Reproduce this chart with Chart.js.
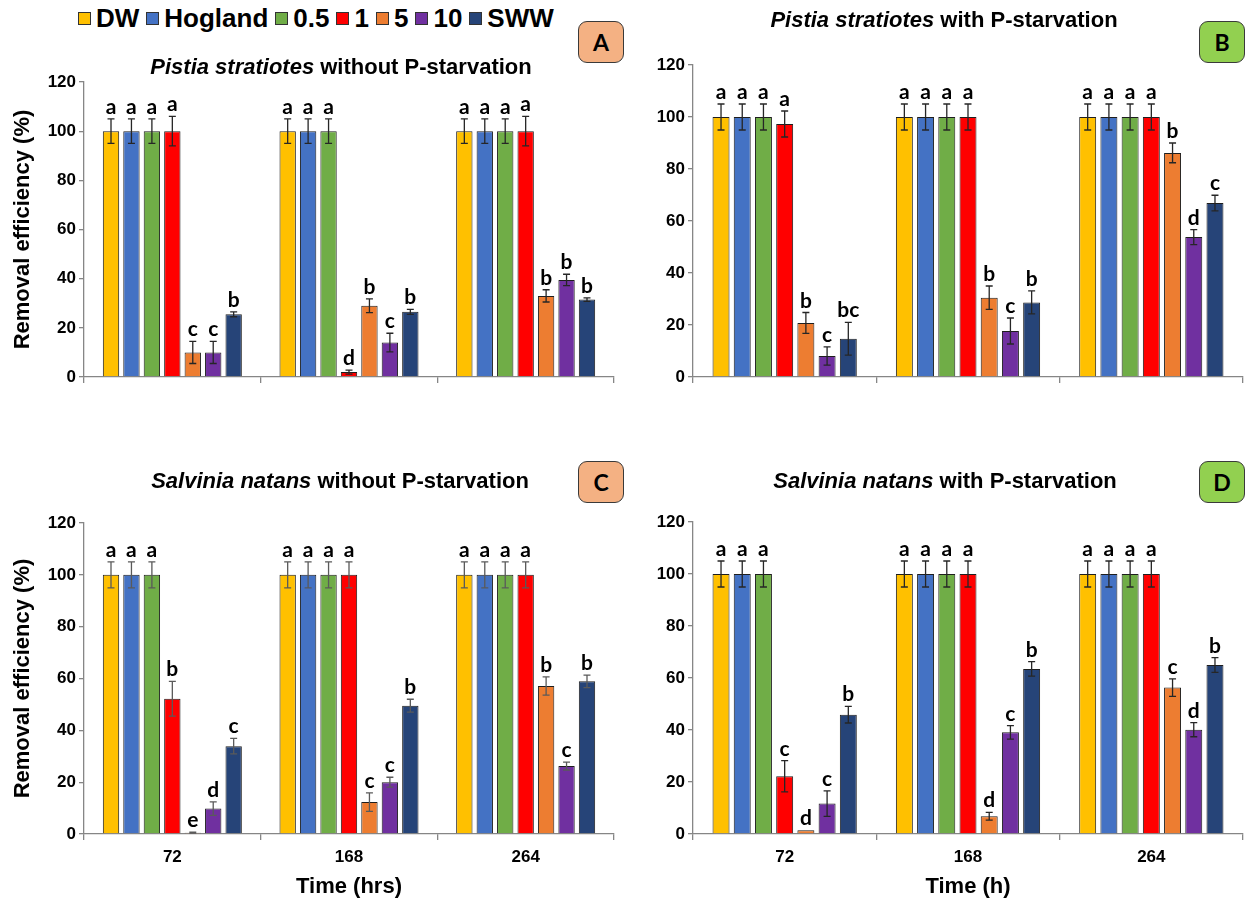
<!DOCTYPE html>
<html>
<head>
<meta charset="utf-8">
<script src="https://cdn.jsdelivr.net/npm/chart.js@4.4.1/dist/chart.umd.min.js"></script>
<style>
  html,body{margin:0;padding:0;background:#fff;}
  body{width:1246px;height:900px;position:relative;overflow:hidden;font-family:'Liberation Sans',Arial,sans-serif;color:#000;}
  canvas{position:absolute;}
  .ttl{position:absolute;font-weight:bold;font-size:22px;white-space:nowrap;transform:translate(-50%,-50%);line-height:1;}
  .box{position:absolute;width:46px;height:42px;border:1.6px solid #3a3a3a;border-radius:9px;display:flex;align-items:center;justify-content:center;font:bold 23px Lato,'Open Sans',sans-serif;box-sizing:border-box;}
  #legend{position:absolute;left:78px;top:3px;display:flex;align-items:center;font-weight:bold;font-size:26px;line-height:30px;white-space:nowrap;}
  .li{display:flex;align-items:center;margin-right:7px;}
  .sw{width:13px;height:13px;border:1px solid #333;margin-right:5px;box-sizing:border-box;}
</style>
</head>
<body>
<div id="legend"></div>

<canvas id="cA" width="630" height="440" style="left:0;top:0;width:630px;height:440px"></canvas>
<canvas id="cB" width="616" height="440" style="left:630px;top:0;width:616px;height:440px"></canvas>
<canvas id="cC" width="630" height="460" style="left:0;top:440px;width:630px;height:460px"></canvas>
<canvas id="cD" width="616" height="460" style="left:630px;top:440px;width:616px;height:460px"></canvas>

<div class="ttl" style="left:341px;top:67px"><i>Pistia stratiotes</i> without P-starvation</div>
<div class="ttl" style="left:944px;top:20px"><i>Pistia stratiotes</i> with P-starvation</div>
<div class="ttl" style="left:340px;top:481px"><i>Salvinia natans</i> without P-starvation</div>
<div class="ttl" style="left:945px;top:481px"><i>Salvinia natans</i> with P-starvation</div>

<div class="box" style="left:578px;top:21px;background:#F4B183">A</div>
<div class="box" style="left:1199px;top:21px;background:#92D050">B</div>
<div class="box" style="left:578px;top:461px;background:#F4B183">C</div>
<div class="box" style="left:1199px;top:461px;background:#92D050">D</div>

<script>
// ---------------- DATA ----------------
const categories = ['72', '168', '264'];
const seriesNames = ['DW', 'Hogland', '0.5', '1', '5', '10', 'SWW'];
const yTicks = [0, 20, 40, 60, 80, 100, 120];

// Panel A: Pistia stratiotes without P-starvation (rows = series, cols = times)
const valuesA = [
  [100, 100, 100], [100, 100, 100], [100, 100, 100], [100, 2, 100],
  [10, 29, 33], [10, 14, 39.5], [25.5, 26.5, 31.5]
];
const errorsA = [
  [5, 5, 5], [5, 5, 5], [5, 5, 5], [6, 0.8, 6],
  [4.5, 2.8, 2.5], [4.5, 3.8, 2.3], [1, 1, 0.7]
];
const lettersA = [
  ['a','a','a'], ['a','a','a'], ['a','a','a'], ['a','d','a'],
  ['c','b','b'], ['c','c','b'], ['b','b','b']
];

// Panel B: Pistia stratiotes with P-starvation
const valuesB = [
  [100, 100, 100], [100, 100, 100], [100, 100, 100], [97.3, 100, 100],
  [20.8, 30.5, 86.2], [8.1, 17.7, 53.8], [14.7, 28.7, 66.9]
];
const errorsB = [
  [5, 5, 5], [5, 5, 5], [5, 5, 5], [5, 5, 5],
  [4, 4.5, 3.8], [3.5, 5, 2.9], [6.3, 4.4, 3]
];
const lettersB = [
  ['a','a','a'], ['a','a','a'], ['a','a','a'], ['a','a','a'],
  ['b','b','b'], ['c','c','d'], ['bc','b','c']
];

// Panel C: Salvinia natans without P-starvation
const valuesC = [
  [100, 100, 100], [100, 100, 100], [100, 100, 100], [52.2, 100, 100],
  [0.5, 12.3, 57.1], [9.8, 20, 26.2], [33.9, 49.5, 58.9]
];
const errorsC = [
  [5, 5, 5], [5, 5, 5], [5, 5, 5], [6.7, 5, 5],
  [0.2, 3.6, 3.5], [2.6, 1.9, 1.5], [3, 2.5, 2.4]
];
const lettersC = [
  ['a','a','a'], ['a','a','a'], ['a','a','a'], ['b','a','a'],
  ['e','c','b'], ['d','c','c'], ['c','b','b']
];

// Panel D: Salvinia natans with P-starvation
const valuesD = [
  [100, 100, 100], [100, 100, 100], [100, 100, 100], [22.2, 100, 100],
  [1.4, 6.8, 56.3], [11.7, 39.1, 40.1], [45.9, 63.5, 65]
];
const errorsD = [
  [5, 5, 5], [5, 5, 5], [5, 5, 5], [6, 5, 5],
  [0, 1.5, 3.4], [4.9, 2.6, 2.7], [3.2, 2.8, 2.8]
];
const lettersD = [
  ['a','a','a'], ['a','a','a'], ['a','a','a'], ['c','a','a'],
  ['d','d','c'], ['c','c','d'], ['b','b','b']
];

// ---------------- STYLE ----------------
const seriesColors = ['#FFC000', '#4472C4', '#70AD47', '#FF0000', '#ED7D31', '#7030A0', '#264478'];
const axisColor = '#868686';

// HTML legend built from the series
const legendEl = document.getElementById('legend');
seriesNames.forEach((n, i) => {
  const it = document.createElement('div'); it.className = 'li';
  const sw = document.createElement('div'); sw.className = 'sw'; sw.style.background = seriesColors[i];
  const tx = document.createElement('span'); tx.textContent = n;
  it.appendChild(sw); it.appendChild(tx); legendEl.appendChild(it);
});

const annotPlugin = {
  id: 'annot',
  afterDatasetsDraw(chart, args, opts) {
    const ctx = chart.ctx, y = chart.scales.y;
    ctx.save();
    chart.data.datasets.forEach((ds, i) => {
      const meta = chart.getDatasetMeta(i);
      meta.data.forEach((bar, j) => {
        const v = ds.data[j], e = ds.errs[j];
        const x = bar.x;
        const yt = y.getPixelForValue(v + e), yb = y.getPixelForValue(Math.max(0, v - e));
        if (e > 0) {
          ctx.strokeStyle = opts.errColor; ctx.lineWidth = 1.3;
          ctx.beginPath();
          ctx.moveTo(x, yt); ctx.lineTo(x, yb);
          ctx.moveTo(x - 3.5, yt); ctx.lineTo(x + 3.5, yt);
          ctx.moveTo(x - 3.5, yb); ctx.lineTo(x + 3.5, yb);
          ctx.stroke();
        }
        ctx.fillStyle = '#000';
        ctx.font = 'bold 21px Lato, "Open Sans", sans-serif';
        ctx.textAlign = 'center'; ctx.textBaseline = 'alphabetic';
        ctx.fillText(ds.letters[j], x, yt - 5);
      });
    });
    ctx.restore();
  }
};

function makeChart(id, values, errors, letters, cfg) {
  const datasets = seriesNames.map((n, i) => ({
    label: n,
    data: values[i],
    errs: errors[i],
    letters: letters[i],
    backgroundColor: seriesColors[i],
    borderColor: '#1e1e1e',
    borderWidth: 1,
    categoryPercentage: 0.81,
    barPercentage: 0.8
  }));
  return new Chart(document.getElementById(id), {
    type: 'bar',
    data: { labels: categories, datasets },
    plugins: [annotPlugin],
    options: {
      responsive: false,
      animation: false,
      devicePixelRatio: 1,
      layout: { padding: { left: 0, top: cfg.top, right: cfg.right, bottom: 0 } },
      plugins: {
        legend: { display: false },
        tooltip: { enabled: false },
        annot: { errColor: cfg.errColor }
      },
      scales: {
        x: {
          grid: { display: true, drawOnChartArea: false, drawTicks: true, tickLength: 6, color: axisColor, lineWidth: 1.3, offset: true },
          border: { color: axisColor, width: 1.3 },
          ticks: { display: cfg.showX, color: '#000', padding: 7,
                   font: { family: "'Liberation Sans',Arial", weight: 'bold', size: 17 } },
          title: { display: cfg.showX, text: cfg.xTitle, color: '#000', padding: { top: 0, bottom: 0 },
                   font: { family: "'Liberation Sans',Arial", weight: 'bold', size: 22 } },
          afterFit: s => { s.height = cfg.xH; }
        },
        y: {
          min: 0, max: 120,
          afterBuildTicks: s => { s.ticks = yTicks.map(v => ({ value: v })); },
          grid: { drawOnChartArea: false, drawTicks: true, tickLength: 5, color: axisColor, lineWidth: 1.3 },
          border: { color: axisColor, width: 1.3 },
          ticks: { color: '#000', padding: 3, font: { family: "'Liberation Sans',Arial", weight: 'bold', size: 17 } },
          title: { display: cfg.showY, text: 'Removal efficiency (%)', color: '#000', padding: { top: 10, bottom: 0 },
                   font: { family: "'Liberation Sans',Arial", weight: 'bold', size: 22 } },
          afterFit: s => { s.width = cfg.yW; }
        }
      }
    }
  });
}

makeChart('cA', valuesA, errorsA, lettersA, { top: 82, right: 16, yW: 84, xH: 63, showX: false, showY: true, xTitle: '', errColor: '#262626' });
makeChart('cB', valuesB, errorsB, lettersB, { top: 65, right: 3, yW: 63, xH: 63, showX: false, showY: false, xTitle: '', errColor: '#262626' });
makeChart('cC', valuesC, errorsC, lettersC, { top: 83, right: 16, yW: 84, xH: 66, showX: true, showY: true, xTitle: 'Time (hrs)', errColor: '#5a5a5a' });
makeChart('cD', valuesD, errorsD, lettersD, { top: 82, right: 3, yW: 63, xH: 66, showX: true, showY: false, xTitle: 'Time (h)', errColor: '#262626' });
</script>
</body>
</html>
